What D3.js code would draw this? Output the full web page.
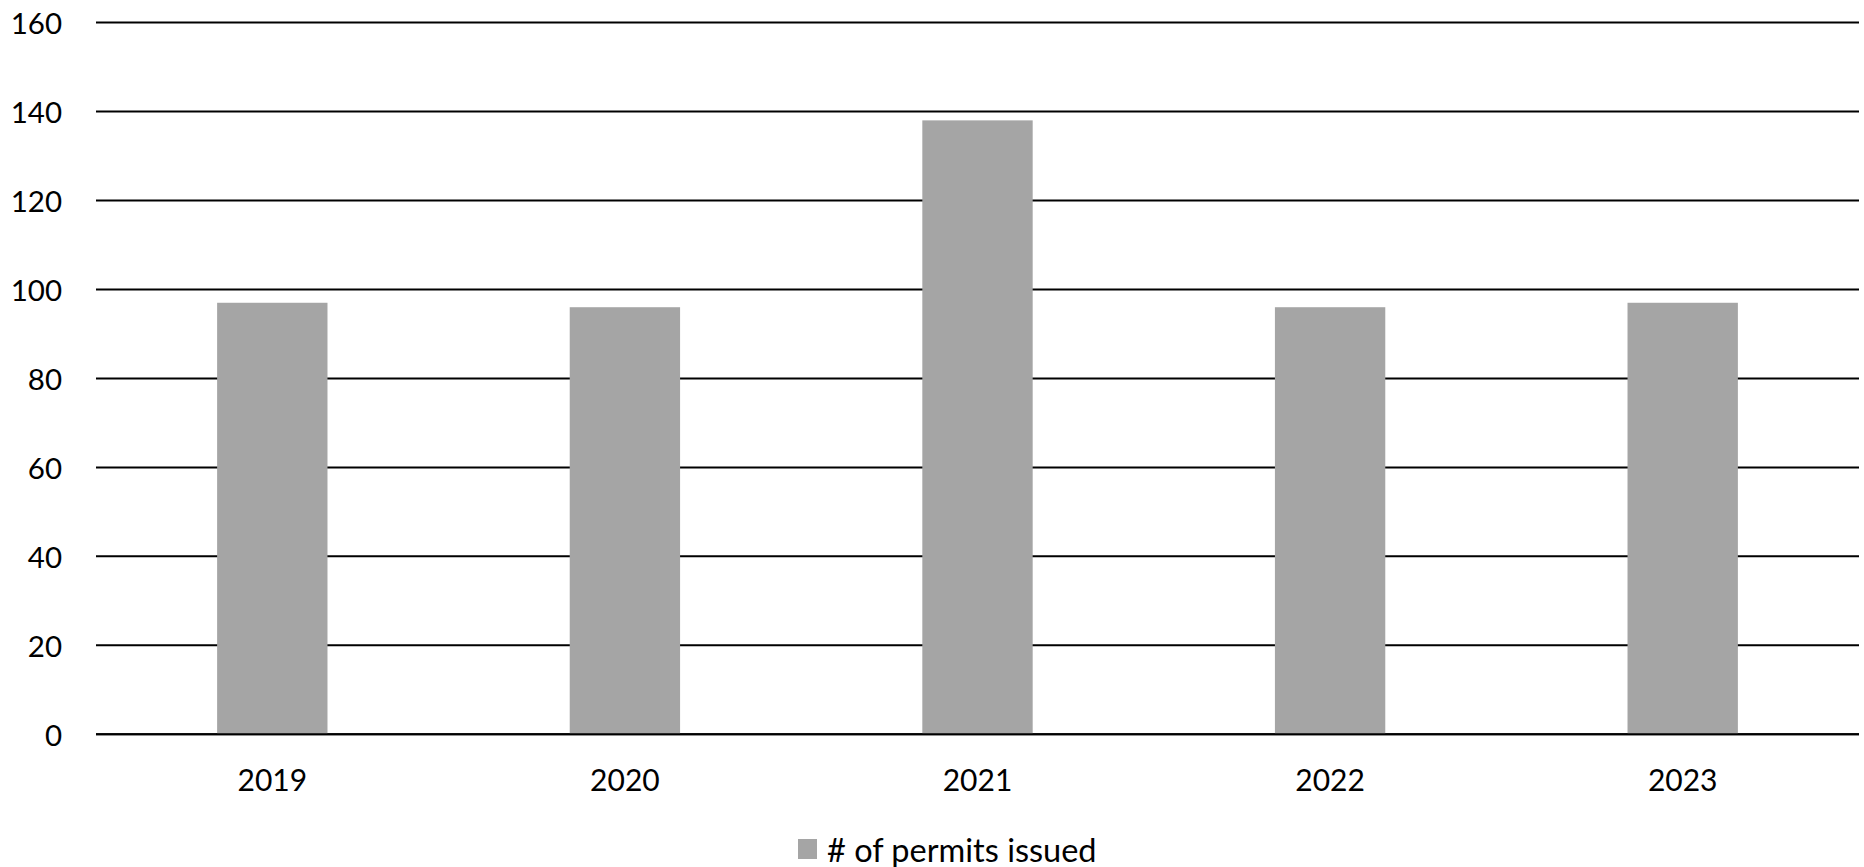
<!DOCTYPE html>
<html>
<head>
<meta charset="utf-8">
<script src="https://cdn.jsdelivr.net/npm/d3@7"></script>
<style>
  html, body { margin: 0; padding: 0; background: #fff; }
  svg { display: block; }
  text { font-family: Lato, "Open Sans", sans-serif; fill: #000; }
</style>
</head>
<body>
<svg id="chart" width="1864" height="867"></svg>
<script>
// Permits issued per year
const years = ["2019", "2020", "2021", "2022", "2023"];
const permits = [97, 96, 138, 96, 97];
const yTicks = [0, 20, 40, 60, 80, 100, 120, 140, 160];
const seriesName = "# of permits issued";

const W = 1864, H = 867;
const margin = { left: 96, right: 5, top: 22.5, bottom: 132.7 };
const svg = d3.select("#chart");

const x = d3.scaleBand()
  .domain(years)
  .range([margin.left, W - margin.right])
  .paddingInner(0.687)
  .paddingOuter(0.3435);

const y = d3.scaleLinear()
  .domain([0, 160])
  .range([H - margin.bottom, margin.top]);

// Horizontal gridlines
svg.append("g")
  .selectAll("line")
  .data(yTicks)
  .join("line")
  .attr("x1", margin.left)
  .attr("x2", W - margin.right)
  .attr("y1", d => y(d))
  .attr("y2", d => y(d))
  .attr("stroke", "#000")
  .attr("stroke-width", 2);

// Y tick labels
svg.append("g")
  .selectAll("text")
  .data(yTicks)
  .join("text")
  .attr("x", 62)
  .attr("y", d => y(d))
  .attr("text-anchor", "end")
  .attr("dominant-baseline", "central")
  .attr("font-size", 29.5)
  .text(d => d);

// Bars
svg.append("g")
  .selectAll("rect")
  .data(years.map((yr, i) => ({ yr, v: permits[i] })))
  .join("rect")
  .attr("x", d => x(d.yr))
  .attr("width", x.bandwidth())
  .attr("y", d => y(d.v))
  .attr("height", d => y(0) - y(d.v))
  .attr("fill", "#a5a5a5");

// Baseline over bars
svg.append("line")
  .attr("x1", margin.left)
  .attr("x2", W - margin.right)
  .attr("y1", y(0))
  .attr("y2", y(0))
  .attr("stroke", "#000")
  .attr("stroke-width", 2);

// X axis labels
svg.append("g")
  .selectAll("text")
  .data(years)
  .join("text")
  .attr("x", d => x(d) + x.bandwidth() / 2)
  .attr("y", 779)
  .attr("text-anchor", "middle")
  .attr("dominant-baseline", "central")
  .attr("font-size", 30)
  .text(d => d);

// Legend
const legend = svg.append("g").attr("transform", "translate(798,839)");
legend.append("rect")
  .attr("width", 19)
  .attr("height", 20)
  .attr("fill", "#a5a5a5");
legend.append("text")
  .attr("x", 29)
  .attr("y", 10)
  .attr("dominant-baseline", "central")
  .attr("font-size", 32.5)
  .text(seriesName);
</script>
</body>
</html>
